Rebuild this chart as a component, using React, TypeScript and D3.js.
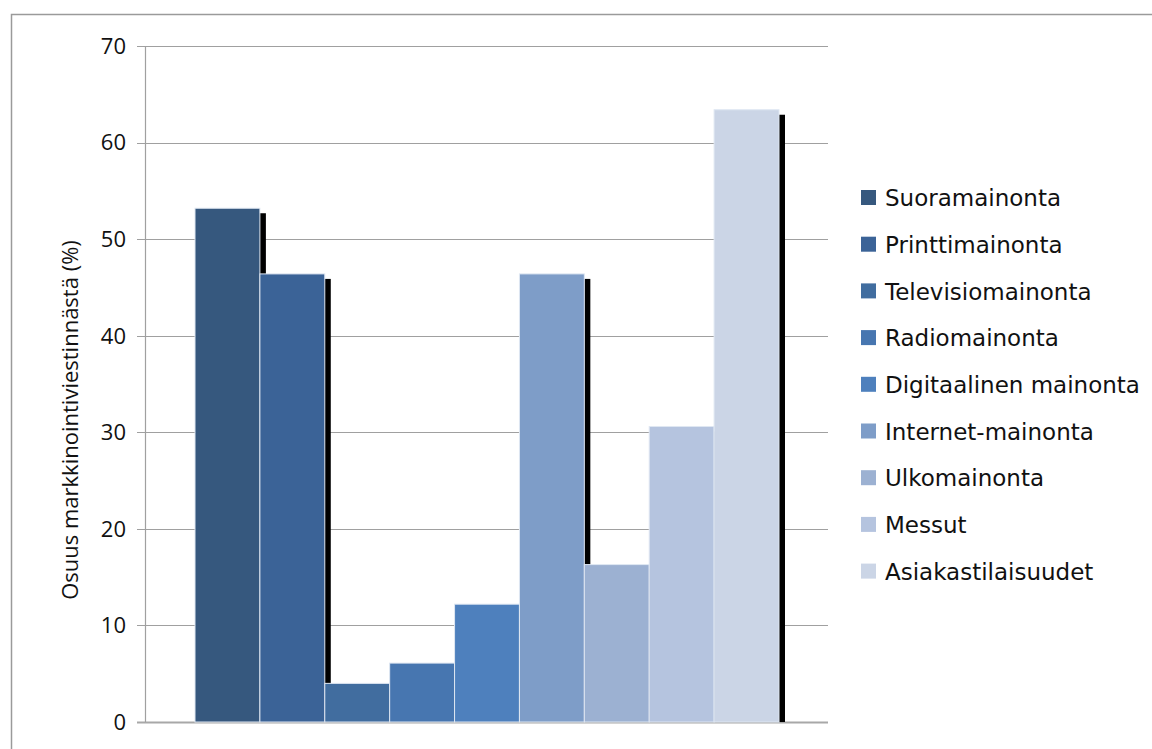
import React, { useEffect, useRef } from "react";
import * as d3 from "d3";

// categories (legend order) and their share of marketing communication, %
const categories = [
  "Suoramainonta",
  "Printtimainonta",
  "Televisiomainonta",
  "Radiomainonta",
  "Digitaalinen mainonta",
  "Internet-mainonta",
  "Ulkomainonta",
  "Messut",
  "Asiakastilaisuudet",
];
const values = [53.2, 46.4, 4.0, 6.1, 12.2, 46.4, 16.3, 30.6, 63.4];
const colors = [
  "#36587e",
  "#3b6397",
  "#416d9f",
  "#4776b0",
  "#4e80bd",
  "#7e9dc8",
  "#9cb1d2",
  "#b5c4df",
  "#cbd5e6",
];
const yTicks = [0, 10, 20, 30, 40, 50, 60, 70];
const yTitle = "Osuus markkinointiviestinnästä (%)";

function App() {
  const svgRef = useRef<SVGSVGElement>(null);

  useEffect(() => {
    const width = 1152;
    const height = 749;
    const left = 145,
      right = 828,
      top = 46,
      bottom = 722;

    const svg = d3.select(svgRef.current).attr("width", width).attr("height", height);
    svg.selectAll("*").remove();

    // outer chart border
    svg
      .append("rect")
      .attr("x", 11.5)
      .attr("y", 14.5)
      .attr("width", 1200)
      .attr("height", 800)
      .attr("fill", "white")
      .attr("stroke", "#9a9a9a")
      .attr("stroke-width", 1.5);

    const y = d3.scaleLinear().domain([0, 70]).range([bottom, top]);
    const x = d3
      .scaleBand<string>()
      .domain(categories)
      .range([195, 779])
      .padding(0);

    // gridlines + tick marks
    svg
      .append("g")
      .selectAll("line")
      .data(yTicks)
      .join("line")
      .attr("x1", 137)
      .attr("x2", right)
      .attr("y1", (d) => Math.round(y(d)) + 0.5)
      .attr("y2", (d) => Math.round(y(d)) + 0.5)
      .attr("stroke", (d) => (d === 0 ? "#a8a8a8" : "#a0a0a0"))
      .attr("stroke-width", (d) => (d === 0 ? 2 : 1.2));

    // y axis line
    svg
      .append("line")
      .attr("x1", left + 0.5)
      .attr("x2", left + 0.5)
      .attr("y1", top)
      .attr("y2", bottom)
      .attr("stroke", "#a0a0a0")
      .attr("stroke-width", 1.2);

    svg
      .append("g")
      .selectAll("text")
      .data(yTicks)
      .join("text")
      .attr("x", 126)
      .attr("y", (d) => y(d))
      .attr("dy", "0.36em")
      .attr("text-anchor", "end")
      .attr("font-family", "Open Sans, sans-serif")
      .attr("font-size", 22)
      .attr("fill", "#111")
      .text((d) => d);

    svg
      .append("text")
      .attr("transform", `translate(70, ${(top + bottom) / 2 + 36}) rotate(-90)`)
      .attr("text-anchor", "middle")
      .attr("dy", "0.36em")
      .attr("font-family", "Open Sans, sans-serif")
      .attr("font-size", 22)
      .attr("fill", "#111")
      .text(yTitle);

    // drop shadows, drawn behind all bars
    svg
      .append("g")
      .selectAll("rect")
      .data(values)
      .join("rect")
      .attr("x", (d, i) => x(categories[i])! + 6)
      .attr("y", (d) => y(d) + 5)
      .attr("width", x.bandwidth())
      .attr("height", (d) => Math.max(0, bottom - y(d) - 5))
      .attr("fill", "black");

    svg
      .append("g")
      .selectAll("rect")
      .data(values)
      .join("rect")
      .attr("x", (d, i) => x(categories[i])!)
      .attr("y", (d) => y(d))
      .attr("width", x.bandwidth())
      .attr("height", (d) => bottom - y(d))
      .attr("fill", (d, i) => colors[i])
      .attr("stroke", "#dfe7f2")
      .attr("stroke-width", 1);

    // legend
    const legend = svg
      .append("g")
      .selectAll("g")
      .data(categories)
      .join("g")
      .attr("transform", (d, i) => `translate(861, ${198 + i * 46.7})`);

    legend
      .append("rect")
      .attr("x", 0)
      .attr("y", -8)
      .attr("width", 15)
      .attr("height", 15)
      .attr("fill", (d, i) => colors[i]);

    legend
      .append("text")
      .attr("x", 24)
      .attr("y", 0)
      .attr("dy", "0.36em")
      .attr("font-family", "DejaVu Sans, sans-serif")
      .attr("font-size", 23)
      .attr("fill", "#111")
      .text((d) => d);
  }, []);

  return (
    <div style={{ position: "absolute", left: 0, top: 0 }}>
      <svg ref={svgRef} style={{ display: "block" }}></svg>
    </div>
  );
}

export default App;
